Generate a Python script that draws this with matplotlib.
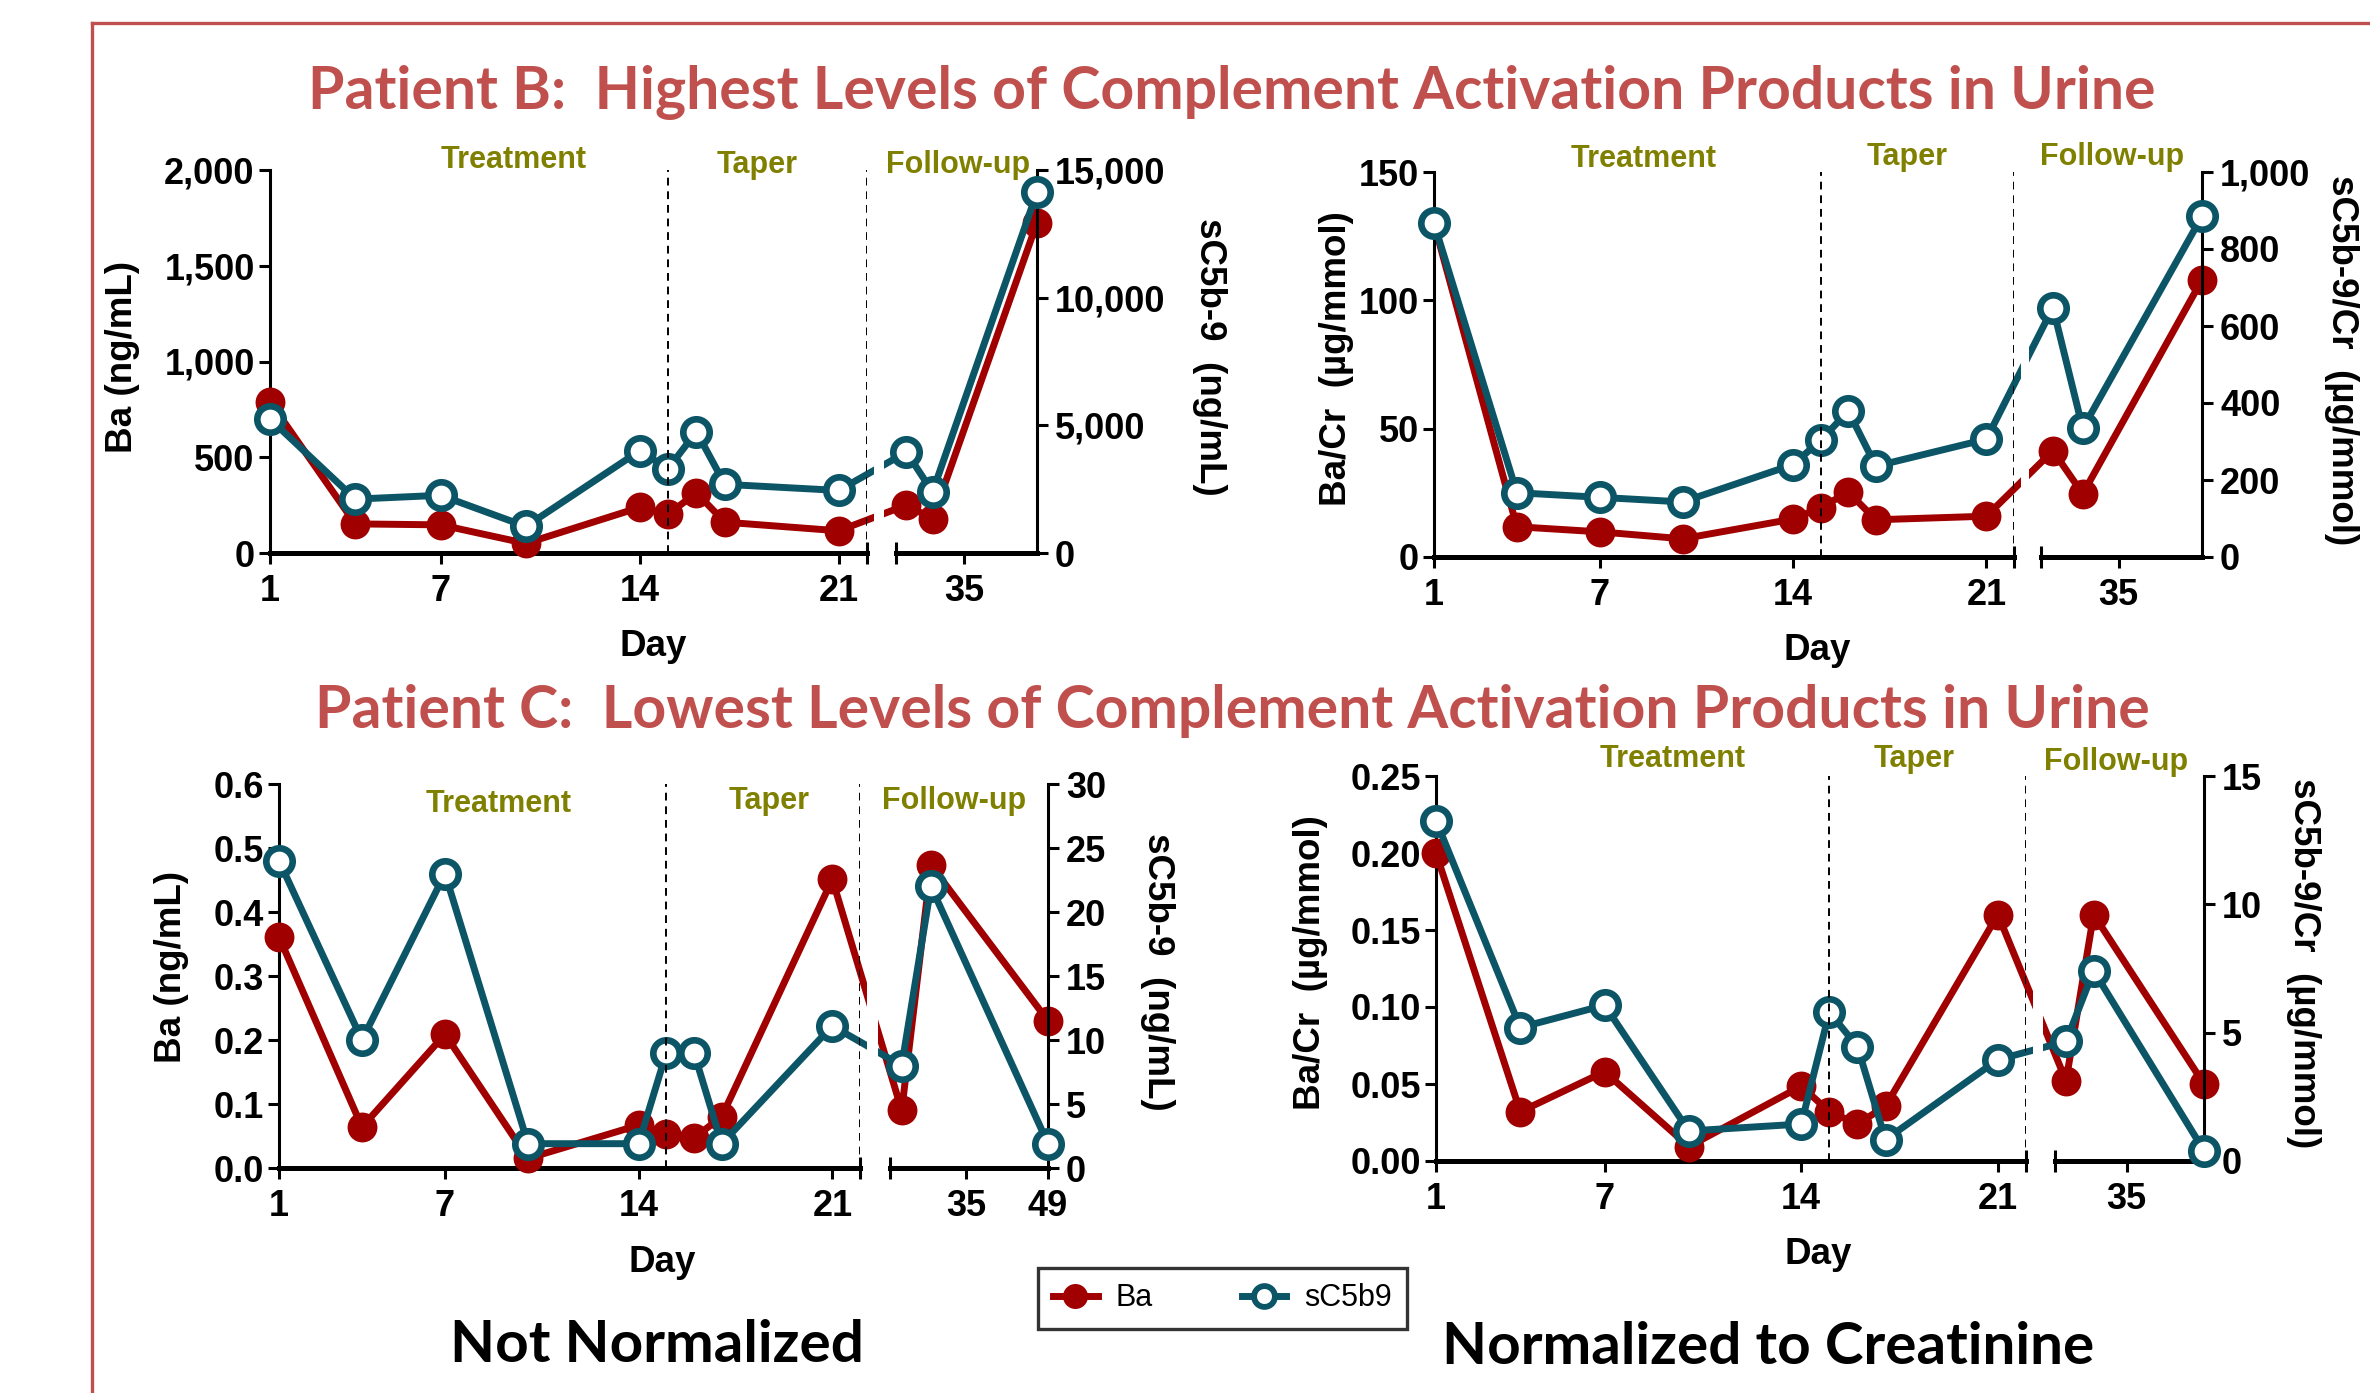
import matplotlib
matplotlib.use('Agg')
import matplotlib.pyplot as plt
from matplotlib.lines import Line2D
from matplotlib.transforms import Bbox, TransformedBbox
import numpy as np

# ---------------- data ----------------
days = [1, 4, 7, 10, 14, 15, 16, 17, 21, 24, 29, 49]

B_ba = [790, 152, 147, 50, 238, 202, 314, 161, 116, 250, 178, 1725]
B_c5 = [5250, 2110, 2260, 1040, 4000, 3300, 4750, 2690, 2450, 3950, 2390, 14130]
B_ba_cr = [130, 11.8, 9.8, 7.1, 14.8, 19.2, 25.3, 14.5, 15.9, 41.4, 24.6, 108]
B_c5_cr = [867, 167, 155, 143, 240, 303, 379, 236, 306, 648, 334, 885]

C_ba = [0.361, 0.064, 0.209, 0.015, 0.067, 0.053, 0.047, 0.080, 0.451, 0.090, 0.473, 0.230]
C_c5 = [24.0, 10.0, 23.0, 1.9, 1.9, 9.0, 9.0, 1.9, 11.1, 8.0, 22.0, 1.9]
C_ba_cr = [0.200, 0.032, 0.058, 0.0094, 0.0486, 0.032, 0.024, 0.0356, 0.160, 0.052, 0.160, 0.050]
C_c5_cr = [13.26, 5.2, 6.07, 1.17, 1.44, 5.8, 4.46, 0.83, 3.95, 4.66, 7.41, 0.40]

seg1_range = (1, 22)
seg2_range = (22, 49)
seg1_ticks = [1, 7, 14, 21]
seg2_ticks_short = [35]
seg2_ticks_long = [35, 49]
phase_lines = [15, 22]
phase_names = ['Treatment', 'Taper', 'Follow-up']

B_ba_ticks = [0, 500, 1000, 1500, 2000]
B_ba_labels = ['0', '500', '1,000', '1,500', '2,000']
B_c5_ticks = [0, 5000, 10000, 15000]
B_c5_labels = ['0', '5,000', '10,000', '15,000']
B_bacr_ticks = [0, 50, 100, 150]
B_bacr_labels = ['0', '50', '100', '150']
B_c5cr_ticks = [0, 200, 400, 600, 800, 1000]
B_c5cr_labels = ['0', '200', '400', '600', '800', '1,000']
C_ba_ticks = [0, 0.1, 0.2, 0.3, 0.4, 0.5, 0.6]
C_ba_labels = ['0.0', '0.1', '0.2', '0.3', '0.4', '0.5', '0.6']
C_c5_ticks = [0, 5, 10, 15, 20, 25, 30]
C_c5_labels = ['0', '5', '10', '15', '20', '25', '30']
C_bacr_ticks = [0, 0.05, 0.10, 0.15, 0.20, 0.25]
C_bacr_labels = ['0.00', '0.05', '0.10', '0.15', '0.20', '0.25']
C_c5cr_ticks = [0, 5, 10, 15]
C_c5cr_labels = ['0', '5', '10', '15']

# ---------------- style ----------------
W, H = 2370, 1393
DPI = 100
plt.rcParams['font.family'] = ['Liberation Sans', 'DejaVu Sans']
RED = '#A00000'
TEAL = '#0B5566'
OLIVE = '#808000'
TITLE_RED = '#C0504D'
TICK_FS = 26
LABEL_FS = 26.5
PHASE_FS = 22
SPINE_W = 2.2
BOTTOM_W = 3.6

fig = plt.figure(figsize=(W / DPI, H / DPI), dpi=DPI)


def px_axes(left, top, right, bottom):
    return fig.add_axes([left / W, 1 - bottom / H, (right - left) / W, (bottom - top) / H])


def fx(x):
    return x / W


def fy(y):
    return 1 - y / H


def clip_box(l, top, r, bottom):
    bb = Bbox.from_extents(fx(l), fy(bottom + 25), fx(r), fy(top - 25))
    return TransformedBbox(bb, fig.transFigure)


def to_other(xs, src, dst):
    pts = np.column_stack([xs, np.zeros(len(xs))])
    disp = src.transData.transform(pts)
    return dst.transData.inverted().transform(disp)[:, 0]


def draw_panel(geom, ba, c5, lticks, llabels, rticks, rlabels, seg2_ticks,
               ylabel, rylabel, lab_pos, rlab_pos, day_pos, phase_pos):
    left, s1r, s2l, right, top, bottom = geom
    segs = [(left, s1r, seg1_range, seg1_ticks), (s2l, right, seg2_range, seg2_ticks)]
    d = np.array(days, dtype=float)
    axes = []
    for i, (l, r, xl, xt) in enumerate(segs):
        ax = px_axes(l, top, r, bottom)
        axr = ax.twinx()
        ax.set_xlim(*xl)
        ax.set_ylim(lticks[0], lticks[-1])
        axr.set_ylim(rticks[0], rticks[-1])
        for sp in ['top', 'right']:
            ax.spines[sp].set_visible(False)
        for sp in ['top', 'left', 'bottom']:
            axr.spines[sp].set_visible(False)
        ax.spines['bottom'].set_linewidth(BOTTOM_W)
        ax.spines['left'].set_linewidth(SPINE_W)
        axr.spines['right'].set_linewidth(SPINE_W)
        ax.set_xticks(xt)
        ax.set_xticklabels([str(t) for t in xt])
        ax.set_xticks([xl[1]] if i == 0 else [xl[0]], minor=True)
        ax.tick_params(axis='x', which='major', direction='out', length=8, width=SPINE_W,
                       labelsize=TICK_FS, pad=7)
        ax.tick_params(axis='x', which='minor', direction='inout', length=16, width=SPINE_W)
        if i == 0:
            ax.set_yticks(lticks)
            ax.set_yticklabels(llabels)
            ax.tick_params(axis='y', direction='out', length=8, width=SPINE_W,
                           labelsize=TICK_FS, pad=3)
            axr.spines['right'].set_visible(False)
            axr.set_yticks([])
            for xv in phase_lines:
                axr.axvline(xv, color='black', lw=1.4, ls=(0, (4, 3)), zorder=6)
        else:
            ax.spines['left'].set_visible(False)
            ax.set_yticks([])
            axr.set_yticks(rticks)
            axr.set_yticklabels(rlabels)
            axr.tick_params(axis='y', direction='out', length=8, width=SPINE_W,
                            labelsize=TICK_FS, pad=5)
        for t in ax.get_xticklabels() + ax.get_yticklabels() + axr.get_yticklabels():
            t.set_fontweight('bold')
        axes.append((ax, axr, l, r, xl))

    for i, (ax, axr, l, r, xl) in enumerate(axes):
        other = axes[1 - i][0]
        inside = (d >= xl[0]) & (d <= xl[1])
        xs = d.copy()
        xs[~inside] = to_other(d[~inside], other, ax)
        if i == 0:
            cb = clip_box(l - 25, top, r + 7, bottom)
        else:
            cb = clip_box(l - 12, top, r + 25, bottom)
        ln, = ax.plot(xs, ba, color=RED, lw=5, zorder=2, solid_capstyle='butt')
        ln.set_clip_box(cb)
        ax.plot(d[inside], np.array(ba)[inside], ls='none', marker='o', ms=21.5, color=RED,
                mew=0, clip_on=False, zorder=3)
        ln2, = axr.plot(xs, c5, color=TEAL, lw=5, zorder=2, solid_capstyle='butt')
        ln2.set_clip_box(cb)
        axr.plot(d[inside], np.array(c5)[inside], ls='none', marker='o', ms=19, mfc='white',
                 mec=TEAL, mew=4.8, clip_on=False, zorder=3)

    ax1 = axes[0][0]
    ax1.set_ylabel(ylabel, fontsize=LABEL_FS, fontweight='bold')
    ax1.yaxis.set_label_coords(fx(lab_pos[0]), fy(lab_pos[1]), transform=fig.transFigure)
    ax1.yaxis.label.set_ha('center')
    ax1.yaxis.label.set_va('center')
    axr2 = axes[1][1]
    axr2.set_ylabel(rylabel, fontsize=LABEL_FS, fontweight='bold', rotation=270)
    axr2.yaxis.set_label_coords(fx(rlab_pos[0]), fy(rlab_pos[1]), transform=fig.transFigure)
    axr2.yaxis.label.set_ha('center')
    axr2.yaxis.label.set_va('center')
    ax1.set_xlabel('Day', fontsize=LABEL_FS, fontweight='bold')
    ax1.xaxis.set_label_coords(fx(day_pos[0]), fy(day_pos[1]), transform=fig.transFigure)
    ax1.xaxis.label.set_ha('center')
    ax1.xaxis.label.set_va('center')
    for name, (px, py) in zip(phase_names, phase_pos):
        fig.text(fx(px), fy(py), name, color=OLIVE, fontsize=PHASE_FS, fontweight='bold',
                 ha='center', va='center')


# Patient B, not normalized
draw_panel((270, 867, 896, 1037, 170, 553), B_ba, B_c5,
           B_ba_ticks, B_ba_labels, B_c5_ticks, B_c5_labels, seg2_ticks_short,
           'Ba (ng/mL)', 'sC5b-9  (ng/mL)', (123, 357), (1209, 357), (653, 647),
           [(514, 160), (757, 165), (958, 165)])
# Patient B, normalized
draw_panel((1434, 2014, 2041, 2202, 172, 557), B_ba_cr, B_c5_cr,
           B_bacr_ticks, B_bacr_labels, B_c5cr_ticks, B_c5cr_labels, seg2_ticks_short,
           'Ba/Cr  (µg/mmol)', 'sC5b-9/Cr  (µg/mmol)', (1336, 359), (2342, 360), (1817, 651),
           [(1644, 159), (1907, 157), (2112, 157)])
# Patient C, not normalized
draw_panel((279, 860, 890, 1048, 784, 1168), C_ba, C_c5,
           C_ba_ticks, C_ba_labels, C_c5_ticks, C_c5_labels, seg2_ticks_long,
           'Ba (ng/mL)', 'sC5b-9  (ng/mL)', (172, 967), (1157, 972), (662, 1262),
           [(499, 804), (769, 801), (954, 801)])
# Patient C, normalized
draw_panel((1436, 2026, 2055, 2204, 776, 1161), C_ba_cr, C_c5_cr,
           C_bacr_ticks, C_bacr_labels, C_c5cr_ticks, C_c5cr_labels, seg2_ticks_short,
           'Ba/Cr  (µg/mmol)', 'sC5b-9/Cr  (µg/mmol)', (1311, 963), (2303, 963), (1818, 1255),
           [(1673, 759), (1914, 759), (2116, 762)])

# titles
TITLE_FONT = ['Lato', 'DejaVu Sans']
fig.text(fx(1232), fy(92), 'Patient B:  Highest Levels of Complement Activation Products in Urine',
         color=TITLE_RED, fontsize=42.4, fontweight='bold', family=TITLE_FONT, ha='center', va='center')
fig.text(fx(1232), fy(711), 'Patient C:  Lowest Levels of Complement Activation Products in Urine',
         color=TITLE_RED, fontsize=42.4, fontweight='bold', family=TITLE_FONT, ha='center', va='center')
fig.text(fx(657), fy(1345), 'Not Normalized', color='black', fontsize=42, fontweight='bold',
         family=TITLE_FONT, ha='center', va='center')
fig.text(fx(1768), fy(1348), 'Normalized to Creatinine', color='black', fontsize=42,
         fontweight='bold', family=TITLE_FONT, ha='center', va='center')

# legend
h1 = Line2D([], [], color=RED, lw=5, marker='o', ms=18, mew=0)
h2 = Line2D([], [], color=TEAL, lw=5, marker='o', ms=15, mfc='white', mec=TEAL, mew=4.2)
leg = fig.legend([h1, h2], ['Ba', 'sC5b9'], loc='upper left',
                 bbox_to_anchor=(fx(1038), fy(1268)), ncol=2, frameon=True, fancybox=False,
                 edgecolor='black', prop={'family': 'Liberation Sans', 'size': 22},
                 handlelength=1.45, handletextpad=0.6, columnspacing=2.9, borderpad=0.5,
                 borderaxespad=0)
leg.get_frame().set_linewidth(2.4)

# outer red border
fig.add_artist(Line2D([fx(92), 1.0], [fy(23), fy(23)], color=TITLE_RED, lw=2.4,
                      transform=fig.transFigure))
fig.add_artist(Line2D([fx(92), fx(92)], [fy(23), 0.0], color=TITLE_RED, lw=2.4,
                      transform=fig.transFigure))

fig.savefig('out.png', dpi=DPI, facecolor='white')
